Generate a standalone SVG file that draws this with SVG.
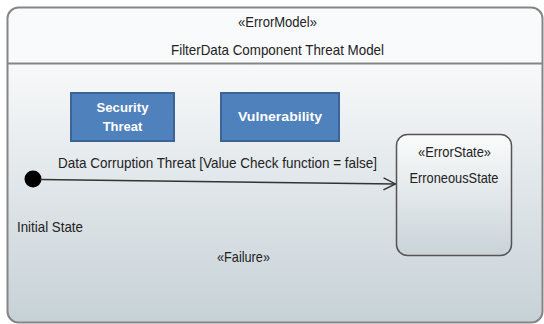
<svg xmlns="http://www.w3.org/2000/svg" width="544" height="324" viewBox="0 0 544 324">
  <defs>
    <linearGradient id="bodyGrad" x1="0" y1="0" x2="0" y2="1">
      <stop offset="0" stop-color="#f8f9fa"/>
      <stop offset="1" stop-color="#c6d1d7"/>
    </linearGradient>
    <linearGradient id="stateGrad" x1="0" y1="0" x2="0" y2="1">
      <stop offset="0" stop-color="#fbfcfc"/>
      <stop offset="1" stop-color="#c9d3d8"/>
    </linearGradient>
    <clipPath id="frameClip">
      <rect x="7.5" y="7.5" width="535" height="315" rx="11"/>
    </clipPath>
    <marker id="openArrow" viewBox="0 0 14 14" refX="13" refY="7" markerWidth="14" markerHeight="14" markerUnits="userSpaceOnUse" orient="auto">
      <path d="M1,1 L13,7 L1,13" fill="none" stroke="#333" stroke-width="1.4"/>
    </marker>
  </defs>
  <style>
    text { font-family: "Liberation Sans", Arial, sans-serif; fill: #222; }
    .lbl { font-size: 15px; }
    .mid { text-anchor: middle; }
    .blue { fill: #4f81bd; stroke: #3a6596; stroke-width: 2; }
    .btxt { font-size: 13px; font-weight: bold; fill: #ffffff; text-anchor: middle; }
    .frame { fill: none; stroke: #858585; stroke-width: 2; }
  </style>

  <g id="frame">
    <g clip-path="url(#frameClip)">
      <rect x="7.5" y="7.5" width="535" height="56" fill="#f9fafb"/>
      <rect x="7.5" y="63.5" width="535" height="260" fill="url(#bodyGrad)"/>
    </g>
    <rect class="frame" x="7.5" y="7.5" width="535" height="315" rx="11"/>
    <line x1="7.5" y1="63.5" x2="542.5" y2="63.5" stroke="#858585" stroke-width="2"/>
    <text class="lbl mid" x="277.5" y="27" textLength="79" lengthAdjust="spacingAndGlyphs">«ErrorModel»</text>
    <text class="lbl mid" x="277.5" y="55" textLength="213" lengthAdjust="spacingAndGlyphs">FilterData Component Threat Model</text>
    <text class="lbl mid" x="243.5" y="262" textLength="53" lengthAdjust="spacingAndGlyphs">«Failure»</text>
  </g>

  <g id="securityThreat">
    <rect class="blue" x="71" y="93" width="103" height="48"/>
    <text class="btxt" x="122.5" y="112" textLength="52" lengthAdjust="spacingAndGlyphs">Security</text>
    <text class="btxt" x="122.5" y="131">Threat</text>
  </g>

  <g id="vulnerability">
    <rect class="blue" x="221" y="93" width="118" height="48"/>
    <text class="btxt" x="280" y="121" textLength="84" lengthAdjust="spacingAndGlyphs">Vulnerability</text>
  </g>

  <g id="initialState">
    <circle cx="33" cy="179" r="8.5" fill="#000"/>
    <text class="lbl" x="17" y="232" textLength="66" lengthAdjust="spacingAndGlyphs">Initial State</text>
  </g>

  <g id="erroneousState">
    <rect x="396.5" y="134.5" width="115" height="121" rx="11" fill="url(#stateGrad)" stroke="#555" stroke-width="1.5"/>
    <text class="lbl mid" x="454.5" y="157" textLength="73" lengthAdjust="spacingAndGlyphs">«ErrorState»</text>
    <text class="lbl mid" x="454" y="183" textLength="89" lengthAdjust="spacingAndGlyphs">ErroneousState</text>
  </g>

  <g id="connectors">
    <line x1="40" y1="179.5" x2="395.5" y2="184" stroke="#333" stroke-width="1.5" marker-end="url(#openArrow)"/>
    <text class="lbl" x="58" y="168" textLength="319" lengthAdjust="spacingAndGlyphs">Data Corruption Threat [Value Check function = false]</text>
  </g>
</svg>
